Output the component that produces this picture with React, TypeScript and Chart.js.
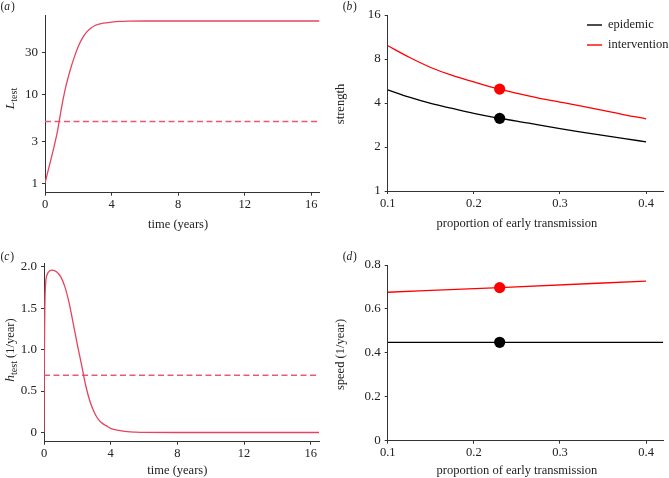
import React, { useEffect, useRef } from "react";
import { Chart, registerables } from "chart.js";

Chart.register(...registerables);

const W = 669;
const H = 478;
const SERIF = "'Liberation Serif', 'Times New Roman', Times, serif";
const INK = "#222222";
const AXIS = "#333333";
const PINK = "#e6445e";
const PINK_DASH = "#e85a72";
const RED = "#ff0000";
const BLACK = "#000000";

// ---------- panel (a): L_test over time (log scale) ----------
const timeA = [0, 0.25, 0.5, 0.75, 1, 1.25, 1.5, 1.75, 2, 2.25, 2.5, 2.75, 3, 3.5, 4, 4.5, 5, 6, 8, 10, 12, 14, 16, 16.5];
const lTest = [1, 1.55, 2.4, 3.9, 7.3, 12.4, 18.7, 26.5, 35.5, 44, 51.5, 57, 61.2, 65, 66.8, 68, 68.5, 68.8, 68.8, 68.8, 68.8, 68.8, 68.8, 68.8];
const lThreshold = 5;
const timeTicks = [0, 4, 8, 12, 16];
const timeTickLabels = ["0", "4", "8", "12", "16"];
const lTicks = [1, 3, 10, 30];
const lTickLabels = ["1", "3", "10", "30"];

// ---------- panel (c): h_test over time ----------
const timeC = [0, 0.02, 0.05, 0.1, 0.2, 0.35, 0.5, 0.75, 1, 1.25, 1.5, 1.75, 2, 2.25, 2.5, 2.75, 3, 3.25, 3.5, 3.75, 4, 4.5, 5, 5.5, 6, 8, 10, 12, 14, 16, 16.5];
const hTest = [0, 0.9, 1.5, 1.8, 1.91, 1.95, 1.96, 1.94, 1.88, 1.76, 1.57, 1.32, 1.06, 0.82, 0.57, 0.38, 0.25, 0.16, 0.11, 0.08, 0.05, 0.025, 0.01, 0.004, 0.001, 0, 0, 0, 0, 0, 0];
const hThreshold = 0.69;
const hTicks = [0, 0.5, 1, 1.5, 2];
const hTickLabels = ["0", "0.5", "1.0", "1.5", "2.0"];

// ---------- panel (b): strength vs proportion of early transmission ----------
const propGrid = [0.1, 0.125, 0.15, 0.175, 0.2, 0.225, 0.25, 0.275, 0.3, 0.325, 0.35, 0.375, 0.4];
const strengthEpidemic = [4.92, 4.38, 3.97, 3.67, 3.4, 3.18, 3.01, 2.83, 2.67, 2.53, 2.4, 2.28, 2.17];
const strengthIntervention = [9.85, 8.22, 7.0, 6.17, 5.58, 5.06, 4.66, 4.32, 4.06, 3.81, 3.56, 3.32, 3.12];
const propMarker = 0.23;
const strengthEpidemicMarker = 3.14;
const strengthInterventionMarker = 4.98;
const strengthTicks = [1, 2, 4, 8, 16];
const strengthTickLabels = ["1", "2", "4", "8", "16"];
const propTicks = [0.1, 0.2, 0.3, 0.4];
const propTickLabels = ["0.1", "0.2", "0.3", "0.4"];

// ---------- panel (d): speed vs proportion of early transmission ----------
const propSpeedEpidemic = [0.1, 0.42];
const speedEpidemic = [0.448, 0.448];
const propSpeedIntervention = [0.1, 0.23, 0.4];
const speedIntervention = [0.676, 0.697, 0.727];
const speedEpidemicMarker = 0.448;
const speedInterventionMarker = 0.697;
const speedTicks = [0, 0.2, 0.4, 0.6, 0.8];
const speedTickLabels = ["0", "0.2", "0.4", "0.6", "0.8"];

const legendLabels = ["epidemic", "intervention"];

type Area = { left: number; top: number; right: number; bottom: number };
type Part = { text: string; font: string; dy: number };

const pts = (xs: number[], ys: number[]) => xs.map((x, i) => ({ x, y: ys[i] }));

function lineDs(xs: number[], ys: number[], color: string, dash: number[] = [], width = 1.3) {
  return {
    data: pts(xs, ys),
    borderColor: color,
    borderWidth: width,
    borderDash: dash,
    pointRadius: 0,
    fill: false,
    cubicInterpolationMode: "monotone",
  };
}

function dotDs(x: number, y: number, color: string) {
  return {
    data: [{ x, y }],
    showLine: false,
    pointRadius: 5.6,
    pointBackgroundColor: color,
    pointBorderColor: color,
    pointBorderWidth: 0,
  };
}

function panelLabel(ctx: CanvasRenderingContext2D, letter: string, x: number, y: number) {
  ctx.save();
  ctx.fillStyle = INK;
  ctx.textBaseline = "alphabetic";
  ctx.textAlign = "left";
  const up = `11.5px ${SERIF}`;
  const it = `italic 11.5px ${SERIF}`;
  let cx = x;
  ctx.font = up;
  ctx.fillText("(", cx, y);
  cx += ctx.measureText("(").width;
  ctx.font = it;
  ctx.fillText(letter, cx, y);
  cx += ctx.measureText(letter).width + 0.8;
  ctx.font = up;
  ctx.fillText(")", cx, y);
  ctx.restore();
}

function rotatedText(ctx: CanvasRenderingContext2D, parts: Part[], cx: number, cy: number) {
  ctx.save();
  ctx.fillStyle = INK;
  ctx.textBaseline = "alphabetic";
  ctx.textAlign = "left";
  let total = 0;
  for (const p of parts) {
    ctx.font = p.font;
    total += ctx.measureText(p.text).width;
  }
  ctx.translate(cx, cy);
  ctx.rotate(-Math.PI / 2);
  let x = -total / 2;
  for (const p of parts) {
    ctx.font = p.font;
    ctx.fillText(p.text, x, 4 + p.dy);
    x += ctx.measureText(p.text).width;
  }
  ctx.restore();
}

function centerText(ctx: CanvasRenderingContext2D, s: string, x: number, y: number, size = 12.5) {
  ctx.save();
  ctx.fillStyle = INK;
  ctx.font = `${size}px ${SERIF}`;
  ctx.textAlign = "center";
  ctx.textBaseline = "middle";
  ctx.fillText(s, x, y);
  ctx.restore();
}

type PanelSpec = {
  area: Area;
  xMin: number;
  xMax: number;
  xTicks: number[];
  xLabels: string[];
  yType: "linear" | "logarithmic";
  yMin: number;
  yMax: number;
  yTicks: number[];
  yLabels: string[];
  datasets: any[];
  draw: (ctx: CanvasRenderingContext2D, chart: any) => void;
};

function panelConfig(p: PanelSpec): any {
  const grid = { display: true, drawOnChartArea: false, drawTicks: true, tickLength: 3, color: AXIS, lineWidth: 1 };
  const border = { display: true, color: AXIS, width: 1 };
  return {
    type: "line",
    data: { datasets: p.datasets },
    options: {
      responsive: false,
      animation: false,
      devicePixelRatio: 1,
      events: [],
      layout: { padding: { left: 0, top: p.area.top, right: W - p.area.right, bottom: 0 } },
      plugins: { legend: { display: false }, tooltip: { enabled: false } },
      scales: {
        x: {
          type: "linear",
          position: "bottom",
          min: p.xMin,
          max: p.xMax,
          afterBuildTicks: (s: any) => {
            s.ticks = p.xTicks.map((v) => ({ value: v }));
          },
          afterFit: (s: any) => {
            s.height = H - p.area.bottom;
          },
          ticks: {
            callback: (_v: any, i: number) => p.xLabels[i],
            font: { family: SERIF, size: 12.5 },
            color: INK,
            padding: 2,
            maxRotation: 0,
            minRotation: 0,
            autoSkip: false,
          },
          grid,
          border,
        },
        y: {
          type: p.yType,
          position: "left",
          min: p.yMin,
          max: p.yMax,
          afterBuildTicks: (s: any) => {
            s.ticks = p.yTicks.map((v) => ({ value: v }));
          },
          afterFit: (s: any) => {
            s.width = p.area.left;
          },
          ticks: {
            callback: (_v: any, i: number) => p.yLabels[i],
            font: { family: SERIF, size: 13 },
            color: INK,
            padding: 4,
            autoSkip: false,
          },
          grid,
          border,
        },
      },
    },
    plugins: [
      {
        id: "deco",
        afterDraw: (chart: any) => p.draw(chart.ctx, chart),
      },
    ],
  };
}

const panelA: PanelSpec = {
  area: { left: 45, top: 15, right: 319.5, bottom: 192.7 },
  xMin: 0,
  xMax: 16.5,
  xTicks: timeTicks,
  xLabels: timeTickLabels,
  yType: "logarithmic",
  yMin: 0.782,
  yMax: 80.5,
  yTicks: lTicks,
  yLabels: lTickLabels,
  datasets: [
    lineDs(timeA, lTest, PINK),
    lineDs([0, 16.5], [lThreshold, lThreshold], PINK_DASH, [6, 3.5], 1.4),
  ],
  draw: (ctx, chart) => {
    panelLabel(ctx, "a", 0.5, 9.8);
    const xs = chart.scales.x;
    centerText(ctx, "time (years)", xs.getPixelForValue(8), 224.5);
    rotatedText(
      ctx,
      [
        { text: "L", font: `italic 13.5px ${SERIF}`, dy: 0 },
        { text: "test", font: `10px ${SERIF}`, dy: 3 },
      ],
      10,
      98.5
    );
  },
};

const panelC: PanelSpec = {
  area: { left: 44, top: 263, right: 319, bottom: 441.7 },
  xMin: 0,
  xMax: 16.5,
  xTicks: timeTicks,
  xLabels: timeTickLabels,
  yType: "linear",
  yMin: -0.111,
  yMax: 2.045,
  yTicks: hTicks,
  yLabels: hTickLabels,
  datasets: [
    lineDs(timeC, hTest, PINK),
    lineDs([0, 16.5], [hThreshold, hThreshold], PINK_DASH, [6, 3.5], 1.4),
  ],
  draw: (ctx, chart) => {
    panelLabel(ctx, "c", 0.5, 259.6);
    const xs = chart.scales.x;
    centerText(ctx, "time (years)", xs.getPixelForValue(8), 471);
    rotatedText(
      ctx,
      [
        { text: "h", font: `italic 13.5px ${SERIF}`, dy: 0 },
        { text: "test", font: `10px ${SERIF}`, dy: 3 },
        { text: " (1/year)", font: `12.5px ${SERIF}`, dy: 0 },
      ],
      9.5,
      350
    );
  },
};

const panelB: PanelSpec = {
  area: { left: 387.7, top: 15, right: 663.3, bottom: 191 },
  xMin: 0.1,
  xMax: 0.42,
  xTicks: propTicks,
  xLabels: propTickLabels,
  yType: "logarithmic",
  yMin: 1,
  yMax: 16,
  yTicks: strengthTicks,
  yLabels: strengthTickLabels,
  datasets: [
    dotDs(propMarker, strengthInterventionMarker, RED),
    dotDs(propMarker, strengthEpidemicMarker, BLACK),
    lineDs(propGrid, strengthIntervention, RED),
    lineDs(propGrid, strengthEpidemic, BLACK),
  ],
  draw: (ctx, chart) => {
    panelLabel(ctx, "b", 342.7, 9.8);
    const xs = chart.scales.x;
    centerText(ctx, "proportion of early transmission", xs.getPixelForValue(0.25), 224);
    rotatedText(ctx, [{ text: "strength", font: `12.5px ${SERIF}`, dy: 0 }], 340, 104);
    // legend
    const colors = [BLACK, RED];
    legendLabels.forEach((lab, i) => {
      const y = 25 + i * 20;
      ctx.save();
      ctx.strokeStyle = colors[i];
      ctx.lineWidth = 1.4;
      ctx.beginPath();
      ctx.moveTo(587, y);
      ctx.lineTo(602, y);
      ctx.stroke();
      ctx.fillStyle = INK;
      ctx.font = `12.5px ${SERIF}`;
      ctx.textAlign = "left";
      ctx.textBaseline = "alphabetic";
      ctx.fillText(lab, 608, y + 3.2);
      ctx.restore();
    });
  },
};

const panelD: PanelSpec = {
  area: { left: 387.7, top: 265, right: 663.3, bottom: 440.7 },
  xMin: 0.1,
  xMax: 0.42,
  xTicks: propTicks,
  xLabels: propTickLabels,
  yType: "linear",
  yMin: 0,
  yMax: 0.8,
  yTicks: speedTicks,
  yLabels: speedTickLabels,
  datasets: [
    dotDs(propMarker, speedInterventionMarker, RED),
    dotDs(propMarker, speedEpidemicMarker, BLACK),
    lineDs(propSpeedIntervention, speedIntervention, RED),
    lineDs(propSpeedEpidemic, speedEpidemic, BLACK),
  ],
  draw: (ctx, chart) => {
    panelLabel(ctx, "d", 342.7, 259.6);
    const xs = chart.scales.x;
    centerText(ctx, "proportion of early transmission", xs.getPixelForValue(0.25), 471);
    rotatedText(ctx, [{ text: "speed (1/year)", font: `12.5px ${SERIF}`, dy: 0 }], 340, 354.5);
  },
};

function Panel({ spec }: { spec: PanelSpec }) {
  const ref = useRef<HTMLCanvasElement | null>(null);
  useEffect(() => {
    if (!ref.current) return;
    const chart = new Chart(ref.current, panelConfig(spec));
    return () => chart.destroy();
  }, [spec]);
  return (
    <canvas
      ref={ref}
      width={W}
      height={H}
      style={{ position: "absolute", left: 0, top: 0, width: W, height: H }}
    />
  );
}

export default function App() {
  return (
    <div style={{ position: "fixed", left: 0, top: 0, width: W, height: H, background: "#ffffff", overflow: "hidden" }}>
      <Panel spec={panelA} />
      <Panel spec={panelB} />
      <Panel spec={panelC} />
      <Panel spec={panelD} />
    </div>
  );
}
